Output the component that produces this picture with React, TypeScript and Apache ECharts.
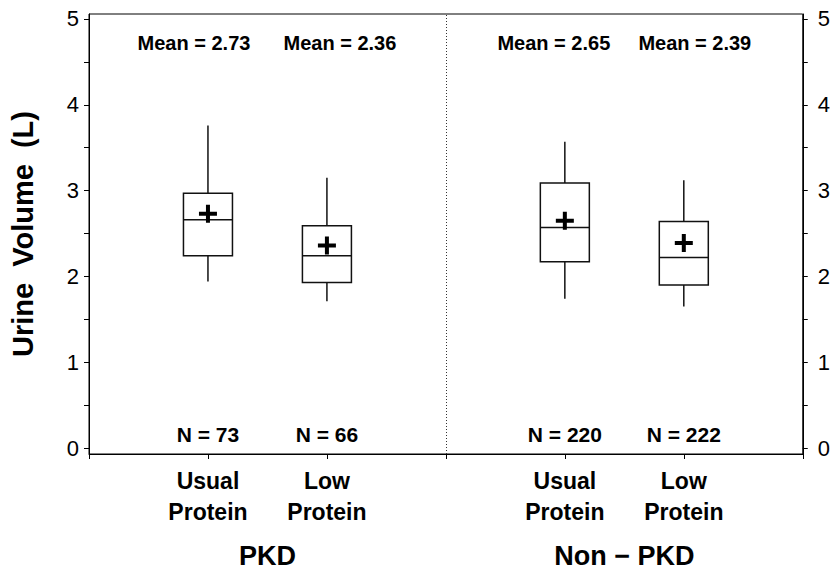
import React, { useEffect, useRef } from "react";
import * as echarts from "echarts";

// ---- data ----
const categories = ["", "Usual\nProtein", "Low\nProtein", "", "Usual\nProtein", "Low\nProtein", ""];
const boxCategoryIndex = [1, 2, 4, 5];
const whiskerLow = [1.94, 1.71, 1.74, 1.65];
const q1 = [2.24, 1.93, 2.17, 1.9];
const median = [2.66, 2.24, 2.57, 2.22];
const q3 = [2.97, 2.59, 3.09, 2.64];
const whiskerHigh = [3.76, 3.15, 3.57, 3.12];
const means = [2.73, 2.36, 2.65, 2.39];
const counts = [73, 66, 220, 222];
const groupNames = ["PKD", "Non \u2212 PKD"];
const groupCenters = [1.5, 4.5];
const yTickLabels = [0, 1, 2, 3, 4, 5];
const yMinorTicks = [0, 0.5, 1, 1.5, 2, 2.5, 3, 3.5, 4, 4.5, 5];
const dividerIndex = 3;

const FONT = "'Liberation Sans', Arial, Helvetica, sans-serif";

export default function App() {
  const ref = useRef<HTMLDivElement>(null);
  useEffect(() => {
    if (!ref.current) return;
    const chart = echarts.init(ref.current, null, { renderer: "svg" });
    const yMin = -6 / 86;
    const yMax = yMin + 441 / 86;
    const meanLabelY = 4.72;
    const nLabelY = 0.163;
    const meanOffsets = [-14, 13, -11, 11];

    const boxData = boxCategoryIndex.map((c, i) => [c, whiskerLow[i], q1[i], median[i], q3[i], whiskerHigh[i]]);

    const yAxisBase = {
      type: "value",
      min: yMin,
      max: yMax,
      splitLine: { show: false },
      axisLine: { show: true, onZero: false, lineStyle: { color: "#000", width: 1 } },
      axisTick: { show: true, inside: false, length: 5, customValues: yMinorTicks, lineStyle: { color: "#000" } },
    };

    const textLabel = (size: number) => ({
      show: true,
      position: "inside",
      color: "#000",
      opacity: 1,
      textBorderWidth: 0,
      fontFamily: FONT,
      fontWeight: "bold",
      fontSize: size,
      formatter: (p: any) => p.name,
    });

    const option: any = {
      animation: false,
      backgroundColor: "#fff",
      grid: { left: 85, right: 27, top: 14, bottom: 114, show: true, borderColor: "#000", borderWidth: 1, backgroundColor: "transparent" },
      xAxis: [
        {
          type: "category",
          data: categories,
          boundaryGap: false,
          axisLine: { show: true, onZero: false, lineStyle: { color: "#000", width: 1 } },
          axisTick: { show: true, inside: false, length: 5, interval: 0, lineStyle: { color: "#000" } },
          axisLabel: {
            interval: 0,
            color: "#000",
            fontFamily: FONT,
            fontWeight: "bold",
            fontSize: 23,
            lineHeight: 31,
            margin: 11,
          },
          splitLine: { show: false },
        },
        {
          type: "value",
          min: 0,
          max: 6,
          position: "bottom",
          axisLine: { show: false, onZero: false },
          axisTick: { show: false },
          splitLine: { show: false },
          axisLabel: {
            customValues: groupCenters,
            formatter: (v: number) => groupNames[groupCenters.indexOf(v)] ?? "",
            color: "#000",
            fontFamily: FONT,
            fontWeight: "bold",
            fontSize: 27,
            margin: 88,
          },
        },
      ],
      yAxis: [
        {
          ...yAxisBase,
          position: "left",
          name: "Urine  Volume  (L)",
          nameLocation: "middle",
          nameGap: 52,
          nameTextStyle: { color: "#000", fontFamily: FONT, fontWeight: "bold", fontSize: 29 },
          axisLabel: { customValues: yTickLabels, color: "#000", fontFamily: FONT, fontSize: 22, margin: 10 },
        },
        {
          ...yAxisBase,
          position: "right",
          axisLabel: { customValues: yTickLabels, color: "#000", fontFamily: FONT, fontSize: 22, margin: 15 },
        },
      ],
      series: [
        {
          type: "custom",
          xAxisIndex: 0,
          yAxisIndex: 0,
          data: boxData,
          renderItem: (params: any, api: any) => {
            const x = api.value(0);
            const lo = api.coord([x, api.value(1)]);
            const b1 = api.coord([x, api.value(2)]);
            const md = api.coord([x, api.value(3)]);
            const b3 = api.coord([x, api.value(4)]);
            const hi = api.coord([x, api.value(5)]);
            const half = 24.5;
            const style = { stroke: "#111", lineWidth: 1.5, fill: null };
            return {
              type: "group",
              children: [
                { type: "line", shape: { x1: hi[0], y1: hi[1], x2: b3[0], y2: b3[1] }, style },
                { type: "line", shape: { x1: b1[0], y1: b1[1], x2: lo[0], y2: lo[1] }, style },
                { type: "rect", shape: { x: b3[0] - half, y: b3[1], width: half * 2, height: b1[1] - b3[1] }, style: { stroke: "#111", lineWidth: 1.5, fill: "#fff" } },
                { type: "line", shape: { x1: md[0] - half, y1: md[1], x2: md[0] + half, y2: md[1] }, style },
              ],
            };
          },
          markLine: {
            silent: true,
            symbol: "none",
            label: { show: false },
            lineStyle: { type: [1, 2], color: "#333", width: 1 },
            data: [{ xAxis: dividerIndex }],
          },
          z: 2,
        },
        {
          type: "scatter",
          xAxisIndex: 0,
          yAxisIndex: 0,
          symbol: "path://M7,0H11V7H18V11H11V18H7V11H0V7H7Z",
          symbolSize: 18,
          itemStyle: { color: "#000", opacity: 1 },
          data: boxCategoryIndex.map((c, i) => [c, means[i]]),
          z: 5,
        },
        {
          type: "scatter",
          xAxisIndex: 0,
          yAxisIndex: 0,
          symbolSize: 0,
          itemStyle: { color: "#000", opacity: 1 },
          label: textLabel(20),
          data: boxCategoryIndex.map((c, i) => ({
            name: `Mean = ${means[i].toFixed(2)}`,
            value: [c, meanLabelY],
            label: { offset: [meanOffsets[i], 0] },
          })),
        },
        {
          type: "scatter",
          xAxisIndex: 0,
          yAxisIndex: 0,
          symbolSize: 0,
          itemStyle: { color: "#000", opacity: 1 },
          label: textLabel(21),
          data: boxCategoryIndex.map((c, i) => ({ name: `N = ${counts[i]}`, value: [c, nLabelY] })),
        },
      ],
    };
    chart.setOption(option);
    return () => chart.dispose();
  }, []);
  return <div ref={ref} style={{ position: "fixed", left: 0, top: 0, width: 833, height: 569, background: "#fff" }} />;
}
